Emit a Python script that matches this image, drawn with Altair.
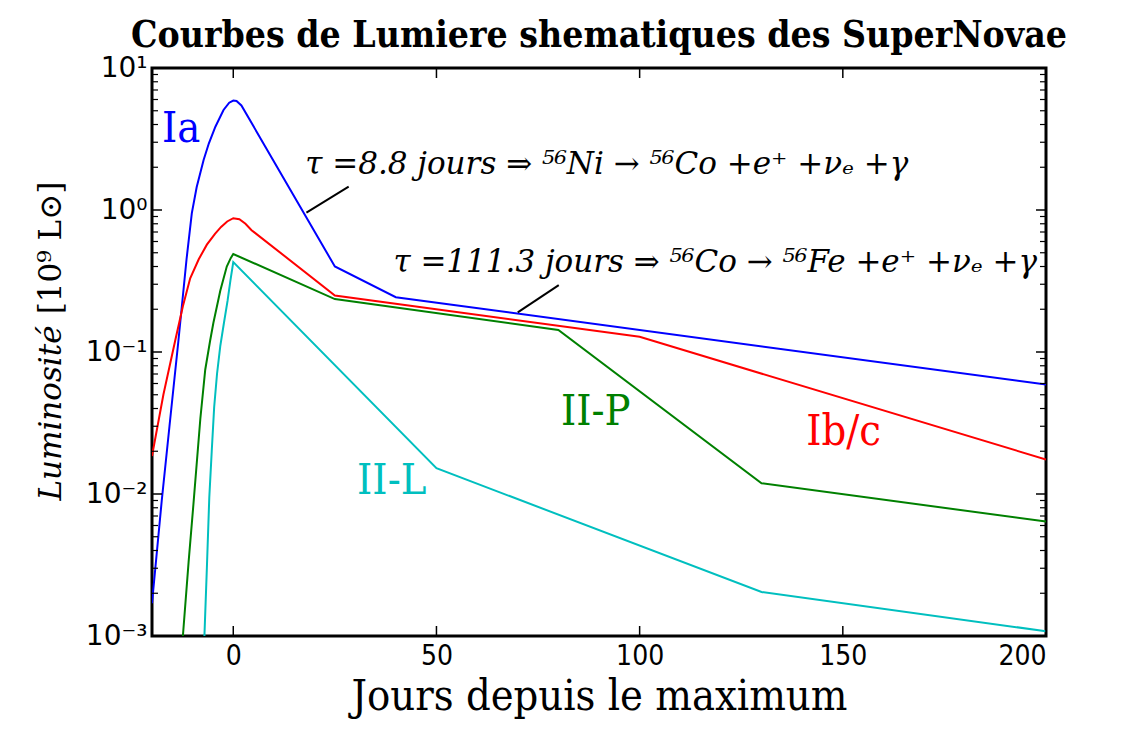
import altair as alt
import pandas as pd

# ---- data ----
days_ia = [-20, -17.6, -15.7, -13.5, -11.5, -10.2, -9, -7.3, -6, -4.4, -2.4, -1, 0, 0.8, 2, 25, 40, 200]
lum_ia = [0.0017, 0.009, 0.03, 0.12, 0.45, 0.95, 1.45, 2.25, 2.95, 3.86, 5.06, 5.7, 5.9, 5.85, 5.45, 0.40, 0.243, 0.059]

days_ibc = [-20, -17.2, -14.3, -12.4, -10.6, -8.5, -6.5, -4.5, -3, -1.5, 0, 1.5, 3, 4.5, 5.5, 25, 100, 200]
lum_ibc = [0.0185, 0.05, 0.12, 0.21, 0.33, 0.45, 0.57, 0.68, 0.76, 0.83, 0.875, 0.86, 0.80, 0.72, 0.685, 0.25, 0.128, 0.0175]

days_iip = [-12.4, -11, -9.8, -8.1, -6.9, -5.7, -4.9, -3.2, -1.6, -0.6, 0, 25, 80, 130, 200]
lum_iip = [0.001, 0.0033, 0.0085, 0.034, 0.075, 0.12, 0.16, 0.27, 0.40, 0.46, 0.49, 0.236, 0.143, 0.0119, 0.0064]

days_iil = [-7.1, -6.5, -5.9, -5.3, -4.7, -4, -3.2, -2.3, -1.4, -0.7, 0, 50, 130, 200]
lum_iil = [0.001, 0.003, 0.0095, 0.02, 0.041, 0.07, 0.11, 0.16, 0.23, 0.32, 0.43, 0.0152, 0.00204, 0.00108]

series_names = ["Ia", "Ib/c", "II-P", "II-L"]
series_colors = ["#0000ff", "#ff0000", "#008000", "#00bfbf"]

label_x = [-12.8, 150.2, 89.2, 39.0]
label_y = [3.01, 0.0221, 0.0306, 0.01]

ann_text = [
    "τ =8.8 jours ⇒ ⁵⁶Ni → ⁵⁶Co +e⁺ +νₑ +γ",
    "τ =111.3 jours ⇒ ⁵⁶Co → ⁵⁶Fe +e⁺ +νₑ +γ",
]
ann_x = [17.7, 39.4]
ann_y = [1.79, 0.366]

conn_x = [18.0, 70.0]
conn_y = [0.957, 0.19]
conn_x2 = [28.4, 80.1]
conn_y2 = [1.46, 0.296]

x_ticks = [0, 50, 100, 150, 200]
y_major = [0.001, 0.01, 0.1, 1, 10]
y_minor = [k * 10.0 ** e for e in range(-3, 1) for k in range(2, 10)]

title_text = "Courbes de Lumiere shematiques des SuperNovae"
x_title = "Jours depuis le maximum"

W, H = 894, 568

# ---- tables ----
rows = []
for name, dd, ll in zip(series_names, [days_ia, days_ibc, days_iip, days_iil],
                        [lum_ia, lum_ibc, lum_iip, lum_iil]):
    for i, (d, l) in enumerate(zip(dd, ll)):
        rows.append({"serie": name, "jour": d, "lum": l, "ord": i})
df = pd.DataFrame(rows)

labels_df = pd.DataFrame({"serie": series_names, "x": label_x, "y": label_y})
ann_df = pd.DataFrame({"t": ann_text, "x": ann_x, "y": ann_y})
conn_df = pd.DataFrame({"x": conn_x, "y": conn_y, "x2": conn_x2, "y2": conn_y2})
xt_df = pd.DataFrame({"x": x_ticks})
ymaj_df = pd.DataFrame({"y": y_major})
ymin_df = pd.DataFrame({"y": y_minor})

xscale = alt.Scale(domain=[-20, 200], nice=False, zero=False)
yscale = alt.Scale(type="log", domain=[0.001, 10], nice=False)
cscale = alt.Scale(domain=series_names, range=series_colors)

label_expr = ("datum.value > 5 ? '10¹' : datum.value > 0.5 ? '10⁰' : "
              "datum.value > 0.05 ? '10⁻¹' : datum.value > 0.005 ? '10⁻²' : '10⁻³'")

xaxis = alt.Axis(values=x_ticks, ticks=False, domain=False, grid=False,
                 labelFont="DejaVu Sans Condensed", labelFontSize=28, labelPadding=6,
                 labelColor="black", title=x_title, titleFont="DejaVu Serif Condensed",
                 titleFontSize=43, titleFontWeight="normal", titleColor="black",
                 titlePadding=5)
yaxis = alt.Axis(values=y_major, ticks=False, domain=False, grid=False,
                 labelExpr=label_expr, labelFont="DejaVu Sans", labelFontSize=28,
                 labelPadding=5, labelColor="black", title=None)

lines = alt.Chart(df).mark_line(strokeWidth=2, clip=True).encode(
    x=alt.X("jour:Q", scale=xscale, axis=xaxis),
    y=alt.Y("lum:Q", scale=yscale, axis=yaxis),
    color=alt.Color("serie:N", scale=cscale, legend=None),
    order="ord:Q",
    detail="serie:N",
)

series_labels = alt.Chart(labels_df).mark_text(
    font="DejaVu Serif Condensed", fontSize=43, align="center", baseline="alphabetic"
).encode(
    x=alt.X("x:Q", scale=xscale),
    y=alt.Y("y:Q", scale=yscale),
    text="serie:N",
    color=alt.Color("serie:N", scale=cscale, legend=None),
)

ann = alt.Chart(ann_df).mark_text(
    font="DejaVu Serif", fontStyle="italic", fontSize=31, align="left",
    baseline="alphabetic", color="black"
).encode(
    x=alt.X("x:Q", scale=xscale),
    y=alt.Y("y:Q", scale=yscale),
    text="t:N",
)

conn = alt.Chart(conn_df).mark_rule(color="black", strokeWidth=2).encode(
    x=alt.X("x:Q", scale=xscale), y=alt.Y("y:Q", scale=yscale),
    x2="x2:Q", y2="y2:Q",
)

tick_col = "black"
xt_bottom = alt.Chart(xt_df).mark_rule(color=tick_col, strokeWidth=1.5).encode(
    x=alt.X("x:Q", scale=xscale), y=alt.value(H), y2=alt.value(H - 10))
xt_top = alt.Chart(xt_df).mark_rule(color=tick_col, strokeWidth=1.5).encode(
    x=alt.X("x:Q", scale=xscale), y=alt.value(0), y2=alt.value(10))
ymaj_l = alt.Chart(ymaj_df).mark_rule(color=tick_col, strokeWidth=1.5).encode(
    y=alt.Y("y:Q", scale=yscale), x=alt.value(0), x2=alt.value(10))
ymaj_r = alt.Chart(ymaj_df).mark_rule(color=tick_col, strokeWidth=1.5).encode(
    y=alt.Y("y:Q", scale=yscale), x=alt.value(W - 10), x2=alt.value(W))
ymin_l = alt.Chart(ymin_df).mark_rule(color=tick_col, strokeWidth=1.2).encode(
    y=alt.Y("y:Q", scale=yscale), x=alt.value(0), x2=alt.value(6))
ymin_r = alt.Chart(ymin_df).mark_rule(color=tick_col, strokeWidth=1.2).encode(
    y=alt.Y("y:Q", scale=yscale), x=alt.value(W - 6), x2=alt.value(W))

ytitle_df = pd.DataFrame({"t": ["Luminosité"]})
ytitle2_df = pd.DataFrame({"t": ["[10⁹ L⊙]"]})
ytitle1 = alt.Chart(ytitle_df).mark_text(
    font="DejaVu Serif", fontStyle="italic", fontSize=31, angle=270,
    align="center", baseline="middle", color="black"
).encode(x=alt.value(-100), y=alt.value(345), text="t:N")
ytitle2 = alt.Chart(ytitle2_df).mark_text(
    font="DejaVu Serif", fontSize=31, angle=270,
    align="center", baseline="middle", color="black"
).encode(x=alt.value(-100), y=alt.value(180), text="t:N")

title_df = pd.DataFrame({"t": [title_text]})
title_mark = alt.Chart(title_df).mark_text(
    font="DejaVu Serif Condensed", fontSize=37, fontWeight="bold",
    align="center", baseline="alphabetic", color="black"
).encode(x=alt.value(W / 2), y=alt.value(-21), text="t:N")

chart = alt.layer(
    lines, series_labels, ann, conn,
    xt_bottom, xt_top, ymaj_l, ymaj_r, ymin_l, ymin_r, ytitle1, ytitle2, title_mark,
).properties(
    width=W, height=H,
    autosize=alt.AutoSizeParams(type="none"),
    padding={"left": 144, "top": 60, "right": 77, "bottom": 102},
).configure(
    background="white",
    view=alt.ViewConfig(stroke="black", strokeWidth=3),
)

chart.save("out.html", embed_options={"renderer": "svg", "actions": False})
